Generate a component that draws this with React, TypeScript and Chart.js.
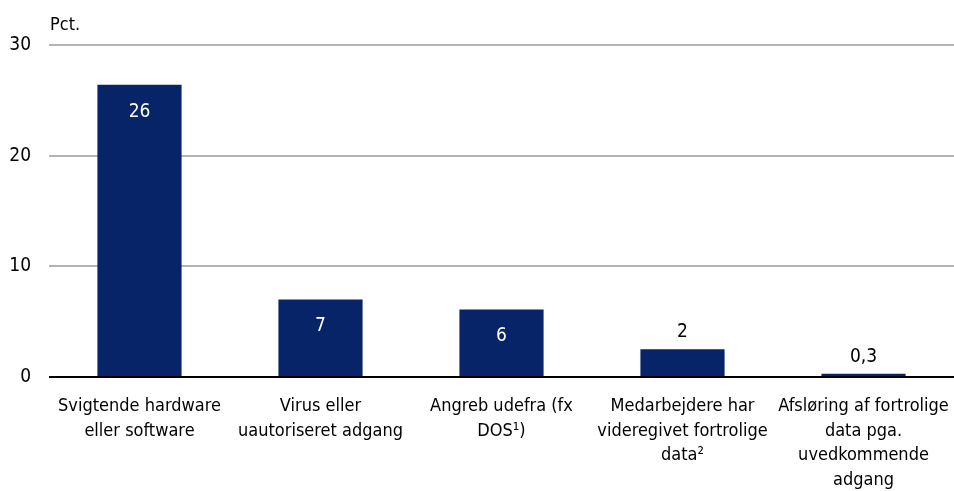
import React, { useEffect, useRef } from "react";
import { Chart, registerables } from "chart.js";

Chart.register(...registerables);

const categories: string[][] = [
  ["Svigtende hardware", "eller software"],
  ["Virus eller", "uautoriseret adgang"],
  ["Angreb udefra (fx", "DOS\u00B9)"],
  ["Medarbejdere har", "videregivet fortrolige", "data\u00B2"],
  ["Afsl\u00F8ring af fortrolige", "data pga.", "uvedkommende", "adgang"],
];
const values: number[] = [26.4, 7.0, 6.1, 2.5, 0.3];
const valueLabels: string[] = ["26", "7", "6", "2", "0,3"];
const yTicks: number[] = [0, 10, 20, 30];
const unitLabel = "Pct.";

const FONT = "'Liberation Sans Narrow', 'DejaVu Sans Condensed', 'Liberation Sans', sans-serif";
const BAR = "#072468";

const labelPlugin = {
  id: "valueLabels",
  afterDatasetsDraw(chart: any) {
    const ctx = chart.ctx;
    const meta = chart.getDatasetMeta(0);
    ctx.save();
    ctx.font = `19px ${FONT}`;
    ctx.textAlign = "center";
    ctx.textBaseline = "middle";
    meta.data.forEach((bar: any, i: number) => {
      const inside = values[i] > 5;
      if (inside) {
        ctx.fillStyle = "#ffffff";
        ctx.fillText(valueLabels[i], bar.x, bar.y + 27);
      } else {
        ctx.fillStyle = "#000000";
        ctx.fillText(valueLabels[i], bar.x, bar.y - 17);
      }
    });
    ctx.fillStyle = "#000000";
    ctx.textAlign = "left";
    ctx.font = `18px ${FONT}`;
    ctx.fillText(unitLabel, chart.chartArea.left + 1, chart.chartArea.top - 20);
    ctx.restore();
  },
};

export default function App() {
  const ref = useRef<HTMLCanvasElement | null>(null);
  useEffect(() => {
    if (!ref.current) return;
    const chart = new Chart(ref.current, {
      type: "bar",
      data: {
        labels: categories,
        datasets: [
          {
            data: values,
            backgroundColor: BAR,
            borderWidth: 0,
            barPercentage: 0.465,
            categoryPercentage: 1,
          },
        ],
      },
      options: {
        animation: false,
        responsive: false,
        maintainAspectRatio: false,
        layout: { padding: { top: 45, right: 0, left: 0, bottom: 0 } },
        plugins: {
          legend: { display: false },
          tooltip: { enabled: false },
        },
        scales: {
          x: {
            grid: { display: false, drawTicks: false },
            border: { display: false },
            afterFit: (s: any) => {
              s.paddingLeft = 0;
              s.paddingRight = 0;
              s.height = 114;
            },
            ticks: {
              color: "#000",
              font: { family: FONT, size: 18, lineHeight: 1.37 },
              padding: 17,
              maxRotation: 0,
              autoSkip: false,
            },
          },
          y: {
            min: 0,
            max: 30,
            afterBuildTicks: (axis: any) => {
              axis.ticks = yTicks.map((v) => ({ value: v }));
            },
            afterFit: (s: any) => {
              s.width = 49;
              s.paddingTop = 0;
              s.paddingBottom = 0;
            },
            grid: {
              color: (c: any) => (c.tick && c.tick.value === 0 ? "#000000" : "#b4b4b4"),
              lineWidth: 2,
              drawTicks: false,
            },
            border: { display: false },
            ticks: {
              color: "#000",
              font: { family: FONT, size: 19 },
              padding: 18,
            },
          },
        },
      },
      plugins: [labelPlugin],
    });
    return () => chart.destroy();
  }, []);
  return (
    <div style={{ position: "fixed", left: 0, top: 0, width: 954, height: 491, background: "#fff" }}>
      <canvas ref={ref} width={954} height={491} style={{ width: 954, height: 491 }} />
    </div>
  );
}
